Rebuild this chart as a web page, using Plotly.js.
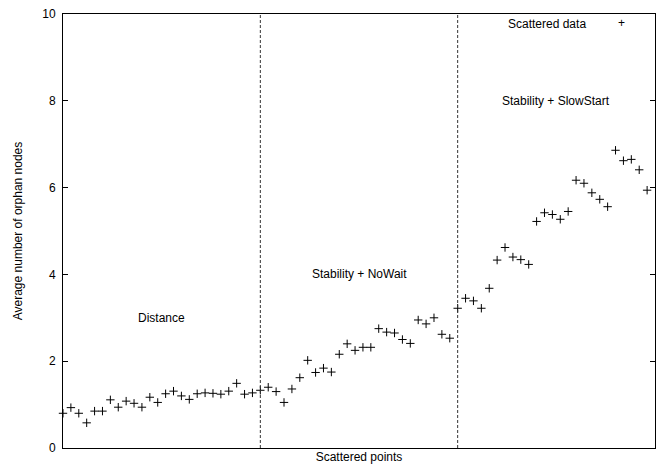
<!DOCTYPE html>
<html>
<head>
<meta charset="utf-8">
<script src="https://cdn.plot.ly/plotly-3.0.1.min.js"></script>
<style>html,body{margin:0;padding:0;background:#fff;}#chart{width:662px;height:471px;}</style>
</head>
<body>
<div id="chart"></div>
<script>
// Average number of orphan nodes for each scattered point (index 0..74)
const yValues = [
  0.80, 0.93, 0.80, 0.58, 0.85, 0.85, 1.11, 0.94, 1.08, 1.03,
  0.94, 1.17, 1.05, 1.25, 1.31, 1.20, 1.12, 1.25, 1.27, 1.26,
  1.24, 1.31, 1.49, 1.24, 1.27, 1.33, 1.40, 1.30, 1.05, 1.36,
  1.62, 2.02, 1.74, 1.84, 1.75, 2.16, 2.40, 2.25, 2.32, 2.32,
  2.75, 2.67, 2.65, 2.50, 2.41, 2.95, 2.86, 3.00, 2.62, 2.53,
  3.22, 3.45, 3.39, 3.22, 3.68, 4.33, 4.62, 4.40, 4.34, 4.23,
  5.22, 5.42, 5.38, 5.27, 5.45, 6.17, 6.10, 5.88, 5.73, 5.56,
  6.86, 6.62, 6.65, 6.41, 5.94
];
const xValues = yValues.map((_, i) => i);

// Region boundaries and region labels
const boundaries = [25, 50];
const regionNames = ["Distance", "Stability + NoWait", "Stability + SlowStart"];
const regionLabelX = [12.5, 37.5, 62.5];
const regionLabelY = [3, 4, 8];
const yTicks = [0, 2, 4, 6, 8, 10];
const seriesName = "Scattered data";

const font = {family: "Liberation Sans, Arial, sans-serif", size: 12, color: "#000"};

const trace = {
  x: xValues, y: yValues, type: "scatter", mode: "markers", name: seriesName,
  marker: {symbol: "cross-thin", size: 6, color: "#000", line: {color: "#000", width: 1}},
  showlegend: false, cliponaxis: false, hoverinfo: "x+y"
};

const shapes = boundaries.map(b => ({
  type: "line", xref: "x", yref: "y", x0: b, x1: b, y0: 0, y1: 10,
  line: {color: "#333", width: 1, dash: "3px,2px"}
}));

const annotations = regionNames.map((t, i) => ({
  text: t, x: regionLabelX[i], y: regionLabelY[i], xref: "x", yref: "y",
  showarrow: false, font: font, xanchor: "center", yanchor: "middle"
}));
annotations.push({text: seriesName, xref: "paper", yref: "paper", x: 0.887, y: 0.977,
  xanchor: "right", yanchor: "middle", showarrow: false, font: font});
annotations.push({text: "+", xref: "paper", yref: "paper", x: 0.943, y: 0.979,
  xanchor: "center", yanchor: "middle", showarrow: false, font: {family: font.family, size: 12, color: "#000"}});

const layout = {
  width: 662, height: 471,
  margin: {l: 63, r: 7, t: 14, b: 23},
  paper_bgcolor: "#fff", plot_bgcolor: "#fff",
  font: font,
  showlegend: false,
  xaxis: {
    range: [0, 75], showgrid: false, zeroline: false, showticklabels: false, ticks: "",
    showline: true, linecolor: "#000", linewidth: 1, mirror: true,
    title: {text: "Scattered points", font: font, standoff: 4}
  },
  yaxis: {
    range: [0, 10], tickvals: yTicks, ticktext: yTicks.map(String),
    showgrid: false, zeroline: false,
    ticks: "inside", ticklen: 5, tickcolor: "#000", tickwidth: 1,
    showline: true, linecolor: "#000", linewidth: 1, mirror: "ticks",
    ticklabelstandoff: 4,
    tickfont: font,
    title: {text: "Average number of orphan nodes", font: font, standoff: 17}
  },
  shapes: shapes,
  annotations: annotations
};

Plotly.newPlot("chart", [trace], layout, {displayModeBar: false, staticPlot: true});
</script>
</body>
</html>
